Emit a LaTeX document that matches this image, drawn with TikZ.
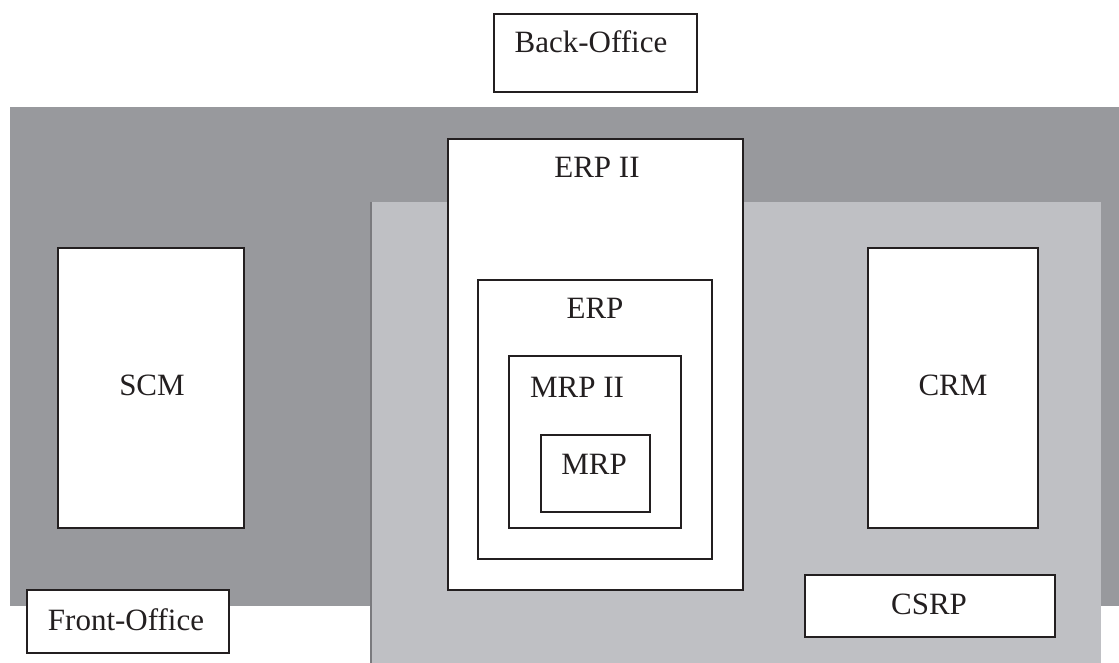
\documentclass[tikz,border=0pt]{standalone}
\usepackage{fontspec}
\setmainfont{Liberation Serif}
\usepackage{tikz}
\usetikzlibrary{positioning}
\usepackage{xcolor}
\definecolor{backgray}{RGB}{152,153,157}
\definecolor{frontgray}{RGB}{191,192,196}
\definecolor{linegray}{RGB}{35,31,32}
\tikzstyle{sysbox} = [draw=linegray, fill=white, line width=1pt]
\tikzstyle{syslabel} = [anchor=base, inner sep=0pt, text=linegray, font=\fontsize{15.5}{18}\selectfont]

\begin{document}
\begin{tikzpicture}[x=0.5pt, y=-0.5pt]
\useasboundingbox (0,0) rectangle (1119,663);
% office areas
\fill[backgray] (10,107) rectangle (1119,606);
\fill[frontgray] (371,202) rectangle (1101,663);
\draw[backgray!80!black, line width=0.6pt] (371,202) -- (371,663);

% boxes
\draw[sysbox] (494,14) rectangle (697,92);
\node[syslabel] (back) at (591,53) {Back-Office};
\draw[sysbox] (27,590) rectangle (229,653);
\node[syslabel] (front) at (126,630) {Front-Office};

\draw[sysbox] (58,248) rectangle (244,528);
\node[syslabel] (scm) at (152,395) {SCM};
\draw[sysbox] (868,248) rectangle (1038,528);
\node[syslabel] (crm) at (953,395) {CRM};
\draw[sysbox] (805,575) rectangle (1055,637);
\node[syslabel] (csrp) at (929,614) {CSRP};

% nested systems
\draw[sysbox] (448,139) rectangle (743,590);
\node[syslabel] (erpii) at (597,178) {ERP II};
\draw[sysbox] (478,280) rectangle (712,559);
\node[syslabel] (erp) at (595,319) {ERP};
\draw[sysbox] (509,356) rectangle (681,528);
\node[syslabel] (mrpii) at (577,397) {MRP II};
\draw[sysbox] (541,435) rectangle (650,512);
\node[syslabel] (mrp) at (594,474) {MRP};
\end{tikzpicture}
\end{document}
